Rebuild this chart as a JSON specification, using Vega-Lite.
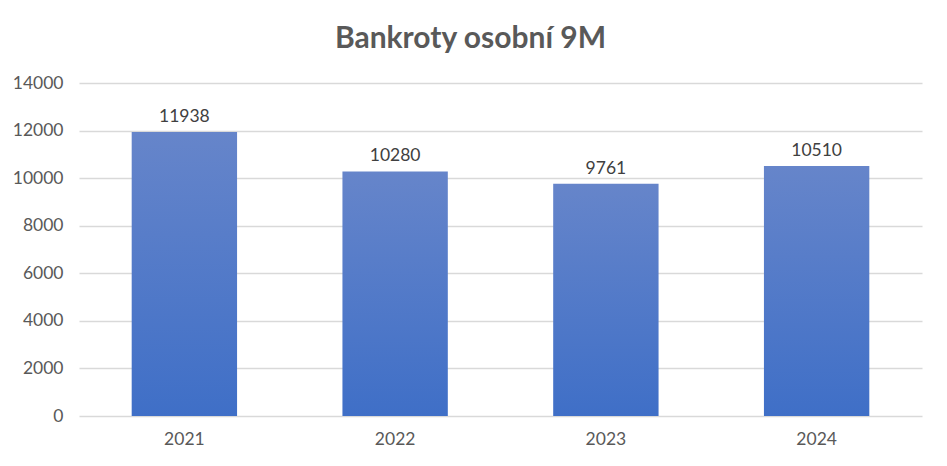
{
  "$schema": "https://vega.github.io/schema/vega-lite/v6.json",
  "width": 843,
  "height": 333,
  "autosize": {"type": "none"},
  "padding": {"left": 79, "top": 83, "right": 25, "bottom": 50},
  "background": "white",
  "title": {
    "text": "Bankroty osobní 9M",
    "font": "Lato",
    "fontSize": 30,
    "fontWeight": "bold",
    "color": "#595959",
    "anchor": "middle",
    "offset": 20,
    "dx": -30
  },
  "data": {
    "values": [
      {"rok": "2021", "pocet": 11938},
      {"rok": "2022", "pocet": 10280},
      {"rok": "2023", "pocet": 9761},
      {"rok": "2024", "pocet": 10510}
    ]
  },
  "encoding": {
    "x": {
      "field": "rok",
      "type": "nominal",
      "scale": {"paddingInner": 0.5, "paddingOuter": 0.25},
      "axis": {
        "title": null,
        "labelAngle": 0,
        "domain": false,
        "ticks": false,
        "labelFont": "Lato",
        "labelFontSize": 17.5,
        "labelColor": "#595959",
        "labelPadding": 14
      }
    },
    "y": {
      "field": "pocet",
      "type": "quantitative",
      "scale": {"domain": [0, 14000]},
      "axis": {
        "title": null,
        "values": [0, 2000, 4000, 6000, 8000, 10000, 12000, 14000],
        "format": "d",
        "domain": false,
        "ticks": false,
        "labelFont": "Lato",
        "labelFontSize": 17.5,
        "labelColor": "#595959",
        "labelPadding": 16,
        "gridColor": "#d9d9d9",
        "gridWidth": 1.5
      }
    }
  },
  "layer": [
    {
      "mark": {
        "type": "bar",
        "color": {
          "gradient": "linear",
          "x1": 0, "y1": 0, "x2": 0, "y2": 1,
          "stops": [
            {"offset": 0, "color": "#6685ca"},
            {"offset": 1, "color": "#3f6fc7"}
          ]
        }
      }
    },
    {
      "mark": {
        "type": "text",
        "baseline": "bottom",
        "dy": -6,
        "font": "Lato",
        "fontSize": 17.5,
        "color": "#404040"
      },
      "encoding": {"text": {"field": "pocet", "type": "quantitative", "format": "d"}}
    }
  ],
  "config": {"view": {"stroke": null}}
}
